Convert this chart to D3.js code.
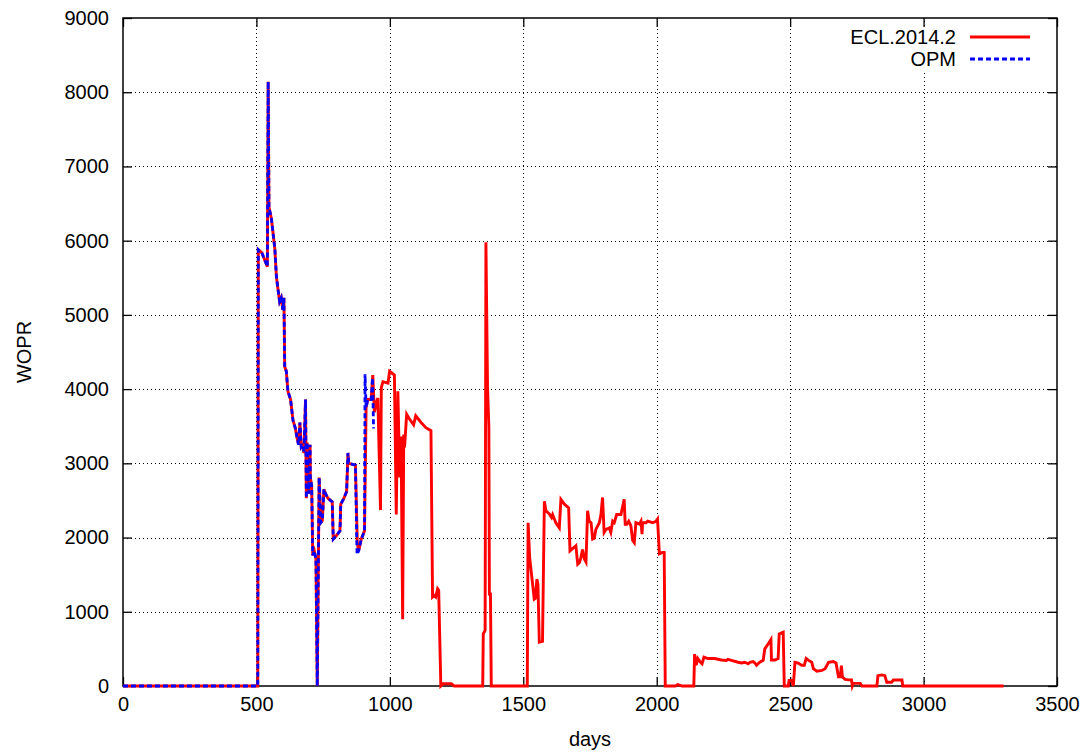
<!DOCTYPE html>
<html>
<head>
<meta charset="utf-8">
<script src="https://cdn.jsdelivr.net/npm/d3@7"></script>
<style>
  html, body { margin: 0; padding: 0; background: #fff; }
  svg { display: block; font-family: "Liberation Sans", Arial, sans-serif; }
</style>
</head>
<body>
<svg id="chart" width="1086" height="755"></svg>
<script>
// WOPR vs days
const xTicks = [0, 500, 1000, 1500, 2000, 2500, 3000, 3500];
const yTicks = [0, 1000, 2000, 3000, 4000, 5000, 6000, 7000, 8000, 9000];
const seriesNames = ['ECL.2014.2', 'OPM'];

const eclDays = [0, 505, 507, 520, 541, 544, 547, 556, 562, 569, 575, 581, 587, 593, 599, 603, 606, 612, 618, 628,
  637, 646, 653, 658, 663, 668, 674, 678, 684, 687, 690, 696, 701, 702, 707, 711, 717, 723, 728, 735,
  741, 747, 753, 759, 768, 784, 788, 803, 813, 816, 828, 838, 843, 846, 871, 878, 883, 893, 905, 911,
  917, 930, 936, 942, 948, 955, 965, 968, 974, 993, 999, 1017, 1024, 1030, 1037, 1042, 1048, 1052, 1055, 1063,
  1073, 1089, 1097, 1117, 1135, 1154, 1160, 1166, 1172, 1179, 1183, 1191, 1200, 1230, 1241, 1348, 1350, 1357, 1360, 1366,
  1371, 1373, 1377, 1380, 1515, 1518, 1524, 1535, 1541, 1545, 1551, 1555, 1560, 1572, 1579, 1585, 1597, 1606, 1610, 1622,
  1635, 1641, 1654, 1670, 1675, 1691, 1697, 1704, 1710, 1716, 1722, 1729, 1735, 1741, 1747, 1754, 1760, 1766, 1772, 1785,
  1791, 1797, 1803, 1810, 1822, 1828, 1835, 1841, 1850, 1866, 1878, 1882, 1888, 1895, 1903, 1910, 1916, 1922, 1935, 1941,
  1945, 1947, 1960, 1966, 1985, 1997, 2003, 2010, 2022, 2028, 2032, 2070, 2079, 2095, 2139, 2142, 2148, 2154, 2164, 2170,
  2177, 2192, 2217, 2242, 2261, 2267, 2280, 2305, 2318, 2330, 2343, 2349, 2361, 2368, 2374, 2386, 2399, 2405, 2418, 2428,
  2430, 2443, 2455, 2459, 2474, 2478, 2493, 2496, 2506, 2512, 2518, 2530, 2543, 2553, 2560, 2569, 2581, 2587, 2600, 2619,
  2631, 2644, 2662, 2672, 2681, 2688, 2692, 2696, 2706, 2719, 2730, 2733, 2737, 2763, 2769, 2825, 2829, 2844, 2855, 2862,
  2880, 2887, 2919, 2922, 3300];
const eclWopr = [0, 0, 5880, 5840, 5650, 8140, 6450, 6300, 6110, 5890, 5510, 5340, 5180, 5230, 5070, 5230, 4300, 4240, 3970, 3860,
  3580, 3470, 3330, 3250, 3550, 3220, 3250, 3140, 3860, 2530, 3280, 2590, 3250, 2810, 2700, 1760, 1820, 1710, 0, 2810,
  2200, 2230, 2650, 2590, 2530, 2480, 1980, 2040, 2090, 2450, 2530, 2620, 3140, 3000, 2975, 1930, 1820, 1980, 2090, 3750,
  3860, 3860, 4190, 3690, 3800, 3880, 2370, 4020, 4100, 4080, 4240, 4190, 2310, 3970, 2810, 3360, 900, 3390, 3215, 3660,
  3600, 3520, 3640, 3550, 3480, 3440, 1200, 1220, 1200, 1310, 1290, 0, 30, 30, 0, 0, 705, 750, 5980, 4030,
  3490, 1240, 1240, 0, 0, 2200, 1730, 1370, 1170, 1180, 1440, 1370, 590, 600, 2490, 2360, 2320, 2270, 2310, 2200,
  2130, 2515, 2450, 2400, 1820, 1870, 1890, 1640, 1660, 1730, 1840, 1710, 1670, 2360, 2220, 2200, 1980, 1990, 2110, 2200,
  2310, 2540, 2070, 2110, 2130, 2070, 2220, 2200, 2310, 2310, 2515, 2180, 2180, 2220, 2160, 1960, 1930, 2200, 2180, 2220,
  2045, 2200, 2200, 2220, 2200, 2220, 2250, 1780, 1800, 1800, 0, 0, 20, 0, 0, 430, 280, 370, 320, 300,
  390, 370, 370, 350, 345, 360, 345, 320, 310, 320, 300, 320, 330, 310, 280, 320, 345, 500, 570, 626,
  350, 350, 370, 700, 725, 0, 0, 76, 76, 0, 320, 310, 280, 280, 370, 345, 320, 235, 200, 210,
  233, 320, 330, 310, 125, 125, 275, 120, 90, 82, 82, 0, 36, 36, 0, 0, 140, 150, 140, 50,
  50, 80, 80, 0, 0];

const opmDays = [0, 505, 507, 520, 541, 544, 547, 556, 562, 569, 575, 581, 587, 593, 599, 603, 606, 612, 618, 628,
  637, 646, 653, 658, 663, 668, 674, 678, 684, 687, 690, 696, 701, 702, 707, 711, 717, 723, 728, 735,
  741, 747, 753, 759, 768, 784, 788, 803, 813, 816, 828, 838, 843, 846, 871, 877, 883, 893, 905, 907,
  911, 917, 930, 935, 939];
const opmWopr = [0, 0, 5880, 5840, 5650, 8140, 6450, 6300, 6110, 5890, 5510, 5340, 5180, 5230, 5070, 5230, 4300, 4240, 3970, 3860,
  3580, 3470, 3330, 3250, 3550, 3220, 3250, 3140, 3860, 2530, 3280, 2590, 3250, 2810, 2700, 1760, 1820, 1710, 0, 2810,
  2200, 2230, 2650, 2590, 2530, 2480, 1980, 2040, 2090, 2450, 2530, 2620, 3140, 3000, 2975, 1770, 1820, 1980, 2090, 4200,
  3750, 3860, 3860, 4150, 3470];

const svg = d3.select('#chart');
const margin = { top: 18, right: 29, bottom: 69, left: 123 };
const width = 1086;
const height = 755;
const fontSize = '20px';

const x = d3.scaleLinear().domain([0, 3500]).range([margin.left, width - margin.right]);
const y = d3.scaleLinear().domain([0, 9000]).range([height - margin.bottom, margin.top]);

// dotted grid
const grid = svg.append('g').attr('stroke', '#000').attr('stroke-width', 1).attr('stroke-dasharray', '1,3');
grid.selectAll('line.gx')
  .data(xTicks.slice(1, -1))
  .join('line')
  .attr('class', 'gx')
  .attr('x1', (d) => Math.round(x(d)) + 0.5)
  .attr('x2', (d) => Math.round(x(d)) + 0.5)
  .attr('y1', y(0))
  .attr('y2', y(9000));
grid.selectAll('line.gy')
  .data(yTicks.slice(1, -1))
  .join('line')
  .attr('class', 'gy')
  .attr('x1', x(0))
  .attr('x2', x(3500))
  .attr('y1', (d) => Math.round(y(d)) + 0.5)
  .attr('y2', (d) => Math.round(y(d)) + 0.5);

// key box hides the grid behind it
svg.append('rect')
  .attr('x', 825).attr('y', 26).attr('width', 228).attr('height', 44)
  .attr('fill', '#fff');

// axes: inward ticks on all four sides
const tickLen = 9;
const fmt = d3.format('d');
const axisBottomG = svg.append('g')
  .attr('transform', `translate(0,${y(0)})`)
  .call(d3.axisBottom(x).tickValues(xTicks).tickSize(-tickLen).tickPadding(11).tickFormat(fmt));
const axisTopG = svg.append('g')
  .attr('transform', `translate(0,${y(9000)})`)
  .call(d3.axisTop(x).tickValues(xTicks).tickSize(-tickLen).tickFormat(''));
const axisLeftG = svg.append('g')
  .attr('transform', `translate(${x(0)},0)`)
  .call(d3.axisLeft(y).tickValues(yTicks).tickSize(-tickLen).tickPadding(14).tickFormat(fmt));
const axisRightG = svg.append('g')
  .attr('transform', `translate(${x(3500)},0)`)
  .call(d3.axisRight(y).tickValues(yTicks).tickSize(-tickLen).tickFormat(''));

[axisBottomG, axisTopG, axisLeftG, axisRightG].forEach((g) => {
  g.select('.domain').remove();
  g.selectAll('line').attr('stroke', '#000').attr('stroke-width', 1.3);
  g.selectAll('text')
    .attr('fill', '#000')
    .style('font-size', fontSize)
    .style('font-family', '"Liberation Sans", Arial, sans-serif');
});

// border
svg.append('rect')
  .attr('x', x(0)).attr('y', y(9000))
  .attr('width', x(3500) - x(0)).attr('height', y(0) - y(9000))
  .attr('fill', 'none').attr('stroke', '#000').attr('stroke-width', 1.5);

// lines
const line = d3.line().x((d) => x(d[0])).y((d) => y(d[1]));
const eclData = eclDays.map((d, i) => [d, eclWopr[i]]);
const opmData = opmDays.map((d, i) => [d, opmWopr[i]]);

svg.append('path')
  .datum(eclData)
  .attr('d', line)
  .attr('fill', 'none')
  .attr('stroke', '#ff0000')
  .attr('stroke-width', 2.9)
  .attr('stroke-linejoin', 'miter');

svg.append('path')
  .datum(opmData)
  .attr('d', line)
  .attr('fill', 'none')
  .attr('stroke', '#0000ff')
  .attr('stroke-width', 2.8)
  .attr('stroke-dasharray', '5,3');

// legend
const legend = svg.append('g').style('font-size', fontSize);
const legendColors = ['#ff0000', '#0000ff'];
seriesNames.forEach((name, i) => {
  const ly = 37 + i * 22;
  legend.append('text')
    .attr('x', 956).attr('y', ly).attr('dy', '0.35em')
    .attr('text-anchor', 'end')
    .text(name);
  legend.append('line')
    .attr('x1', 970).attr('x2', 1030).attr('y1', ly).attr('y2', ly)
    .attr('stroke', legendColors[i])
    .attr('stroke-width', 2.9)
    .attr('stroke-dasharray', i === 1 ? '5,3' : null);
});

// axis titles
svg.append('text')
  .attr('x', (x(0) + x(3500)) / 2).attr('y', 746)
  .attr('text-anchor', 'middle')
  .style('font-size', fontSize)
  .text('days');
svg.append('text')
  .attr('transform', `translate(24,${(y(0) + y(9000)) / 2}) rotate(-90)`)
  .attr('text-anchor', 'middle')
  .attr('dy', '0.35em')
  .style('font-size', fontSize)
  .text('WOPR');
</script>
</body>
</html>
